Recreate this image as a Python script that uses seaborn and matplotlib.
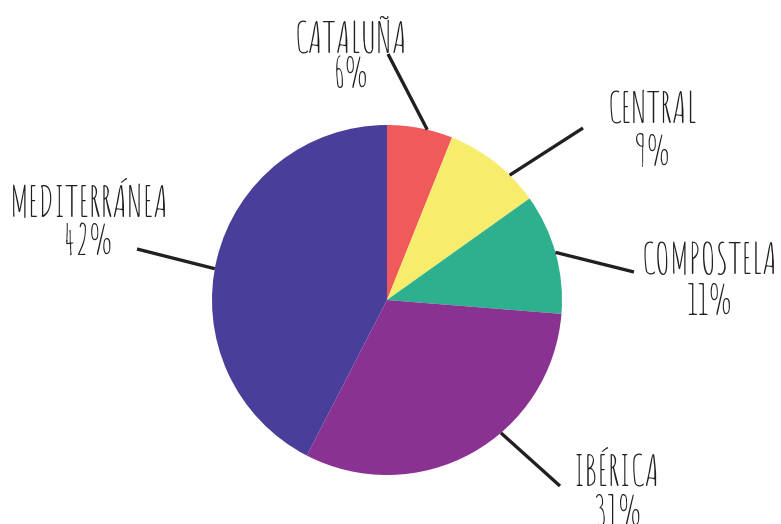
import numpy as np
import matplotlib
matplotlib.use("Agg")
import matplotlib.pyplot as plt
import seaborn as sns

# ---- data ----
regions = ["CATALUÑA", "CENTRAL", "COMPOSTELA", "IBÉRICA", "MEDITERRÁNEA"]
shares = [6, 9, 11, 31, 42]
colors = ["#F15A5B", "#F7EC6B", "#2DB08E", "#8A3291", "#493E99"]

sns.set_theme(style="white")
plt.rcParams["font.family"] = ["Amatic SC", "DejaVu Sans"]

W, H = 781, 524
fig = plt.figure(figsize=(W / 100, H / 100), dpi=100)
ax = fig.add_axes([0, 0, 1, 1])

def fy(y):
    return H - y

cx, cy, R = 387, fy(300), 175
wedges, _ = ax.pie(shares, colors=colors, startangle=90, counterclock=False,
                   center=(cx, cy), radius=R, frame=True,
                   wedgeprops=dict(linewidth=0))
ax.set_xlim(0, W)
ax.set_ylim(0, H)
ax.axis("off")

# layout: rim anchor angle (deg clockwise from top), line end, name centre, percent centre
layout = {
    "CATALUÑA": (13.3, (388, 54), (351, 35), (351, 73)),
    "CENTRAL": (44.5, (583, 128), (652, 108), (652, 150)),
    "COMPOSTELA": (74.2, (634, 272), (710, 258), (710, 300)),
    "IBÉRICA": (139.4, (560, 486), (617, 468), (617, 511)),
    "MEDITERRÁNEA": (280.3, (137, 249), (89, 198), (87, 239)),
}

ink = "#231F20"
for name, pct in zip(regions, shares):
    ang, (ex, ey), (tx, ty), (px, py) = layout[name]
    a = np.deg2rad(ang)
    sx = cx + R * np.sin(a)
    sy = cy + R * np.cos(a)
    ax.plot([sx, ex], [sy, fy(ey)], color=ink, lw=2.4, solid_capstyle="butt")
    ax.text(tx, fy(ty), name, ha="center", va="center",
            fontsize=30, fontweight="normal", color=ink)
    ax.text(px, fy(py), f"{pct}%", ha="center", va="center",
            fontsize=30, fontweight="normal", color=ink)

fig.savefig("out.png", dpi=100)
